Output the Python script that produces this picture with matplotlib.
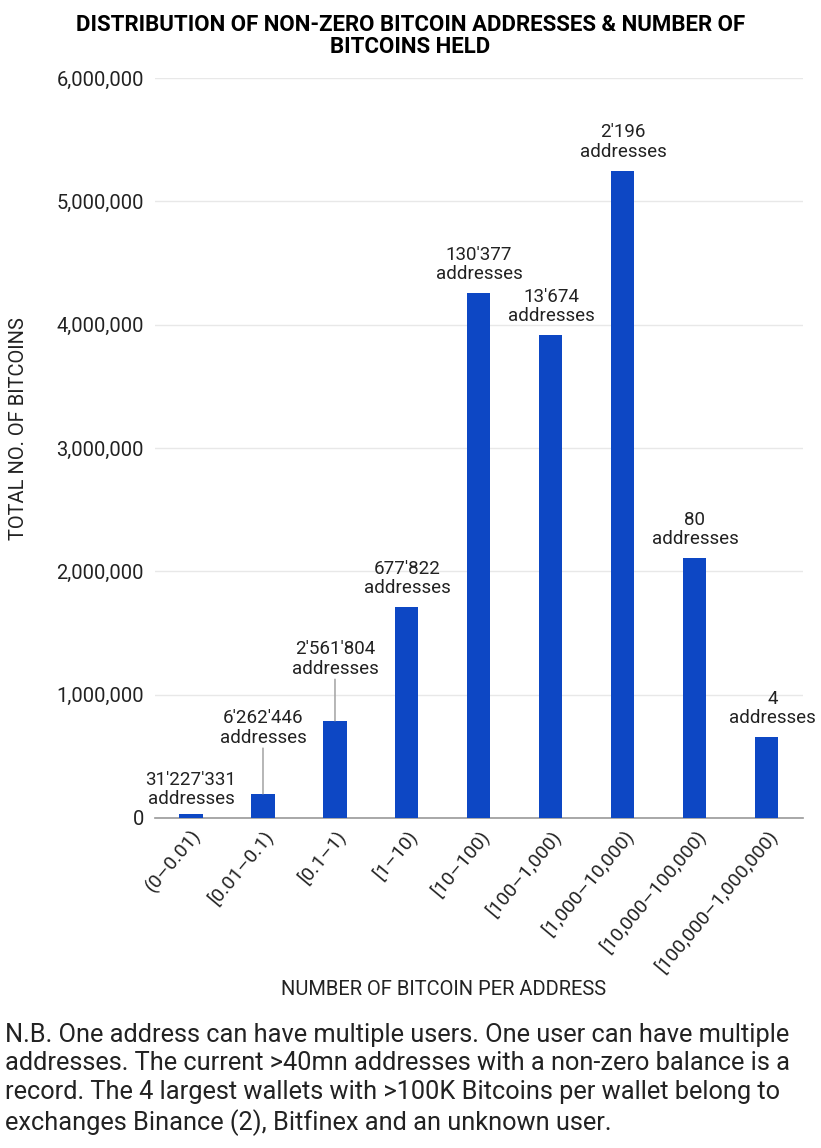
import matplotlib.pyplot as plt
from matplotlib.ticker import FuncFormatter

plt.rcParams['font.family'] = ['Roboto', 'DejaVu Sans']

# data
categories = ["(0\u20130.01)", "[0.01\u20130.1)", "[0.1\u20131)", "[1\u201310)", "[10\u2013100)",
              "[100\u20131,000)", "[1,000\u201310,000)", "[10,000\u2013100,000)",
              "[100,000\u20131,000,000)"]
total_btc = [35000, 195000, 787000, 1712000, 4258000, 3918000, 5250000, 2110000, 657000]
address_labels = ["31'227'331", "6'262'446", "2'561'804", "677'822", "130'377",
                  "13'674", "2'196", "80", "4"]

BAR_COLOR = "#0d47c4"
TXT = "#222222"

fig = plt.figure(figsize=(8.21, 11.48), dpi=100)
ax = fig.add_axes([0.1888, 0.2875, 0.978 - 0.1888, 0.932 - 0.2875])

x = range(len(categories))
ax.bar(x, total_btc, width=0.32, color=BAR_COLOR, zorder=3)

ax.set_xlim(-0.5, len(categories) - 0.5)
ax.set_ylim(0, 6000000)
ax.set_yticks(range(0, 6000001, 1000000))
ax.yaxis.set_major_formatter(FuncFormatter(lambda v, p: f"{int(v):,}"))
ax.grid(axis="y", color="#e8e8e8", linewidth=1, zorder=0)
ax.tick_params(axis="both", length=0, labelsize=14.5, labelcolor=TXT)
ax.tick_params(axis="y", pad=8)
ax.tick_params(axis="x", pad=6)
ax.set_xticks(list(x))
ax.set_xticklabels(categories, rotation=50, ha="right", rotation_mode="anchor", fontsize=14)
for s in ["top", "right", "left"]:
    ax.spines[s].set_visible(False)
ax.spines["bottom"].set_color("#999999")
ax.spines["bottom"].set_linewidth(1.2)

# labels above bars: (offset in points, leader line)
offsets = [(0, 4), (0, 34), (0, 31), (0, 7), (0, 7), (0, 7), (0, 7), (0, 7), (4, 7)]
leaders = [False, True, True, False, False, False, False, False, False]
for i, (v, lab) in enumerate(zip(total_btc, address_labels)):
    dx, dy = offsets[i]
    ax.annotate(f"{lab}\naddresses", xy=(i, v), xytext=(dx, dy), textcoords="offset points",
                ha="center", va="bottom", fontsize=13.5, color=TXT, linespacing=1.1)
    if leaders[i]:
        ax.annotate("", xy=(i, v), xytext=(0, dy - 1), textcoords="offset points",
                    arrowprops=dict(arrowstyle="-", color="#999999", lw=1, shrinkA=0, shrinkB=0))

fig.text(0.5, 0.988, "DISTRIBUTION OF NON-ZERO BITCOIN ADDRESSES & NUMBER OF\nBITCOINS HELD",
         ha="center", va="top", fontsize=16, fontweight="bold", color="#000000", linespacing=1.0)
fig.text(0.022, 0.627, "TOTAL NO. OF BITCOINS", rotation=90, ha="center", va="center",
         fontsize=14.5, color=TXT)
fig.text(0.54, 0.138, "NUMBER OF BITCOIN PER ADDRESS", ha="center", va="center",
         fontsize=14.5, color=TXT)

note = ("N.B. One address can have multiple users. One user can have multiple\n"
        "addresses. The current >40mn addresses with a non-zero balance is a\n"
        "record. The 4 largest wallets with >100K Bitcoins per wallet belong to\n"
        "exchanges Binance (2), Bitfinex and an unknown user.")
fig.text(0.006, 0.109, note, ha="left", va="top", fontsize=18.3, color=TXT, linespacing=1.24)

fig.savefig("out.png", dpi=100)
